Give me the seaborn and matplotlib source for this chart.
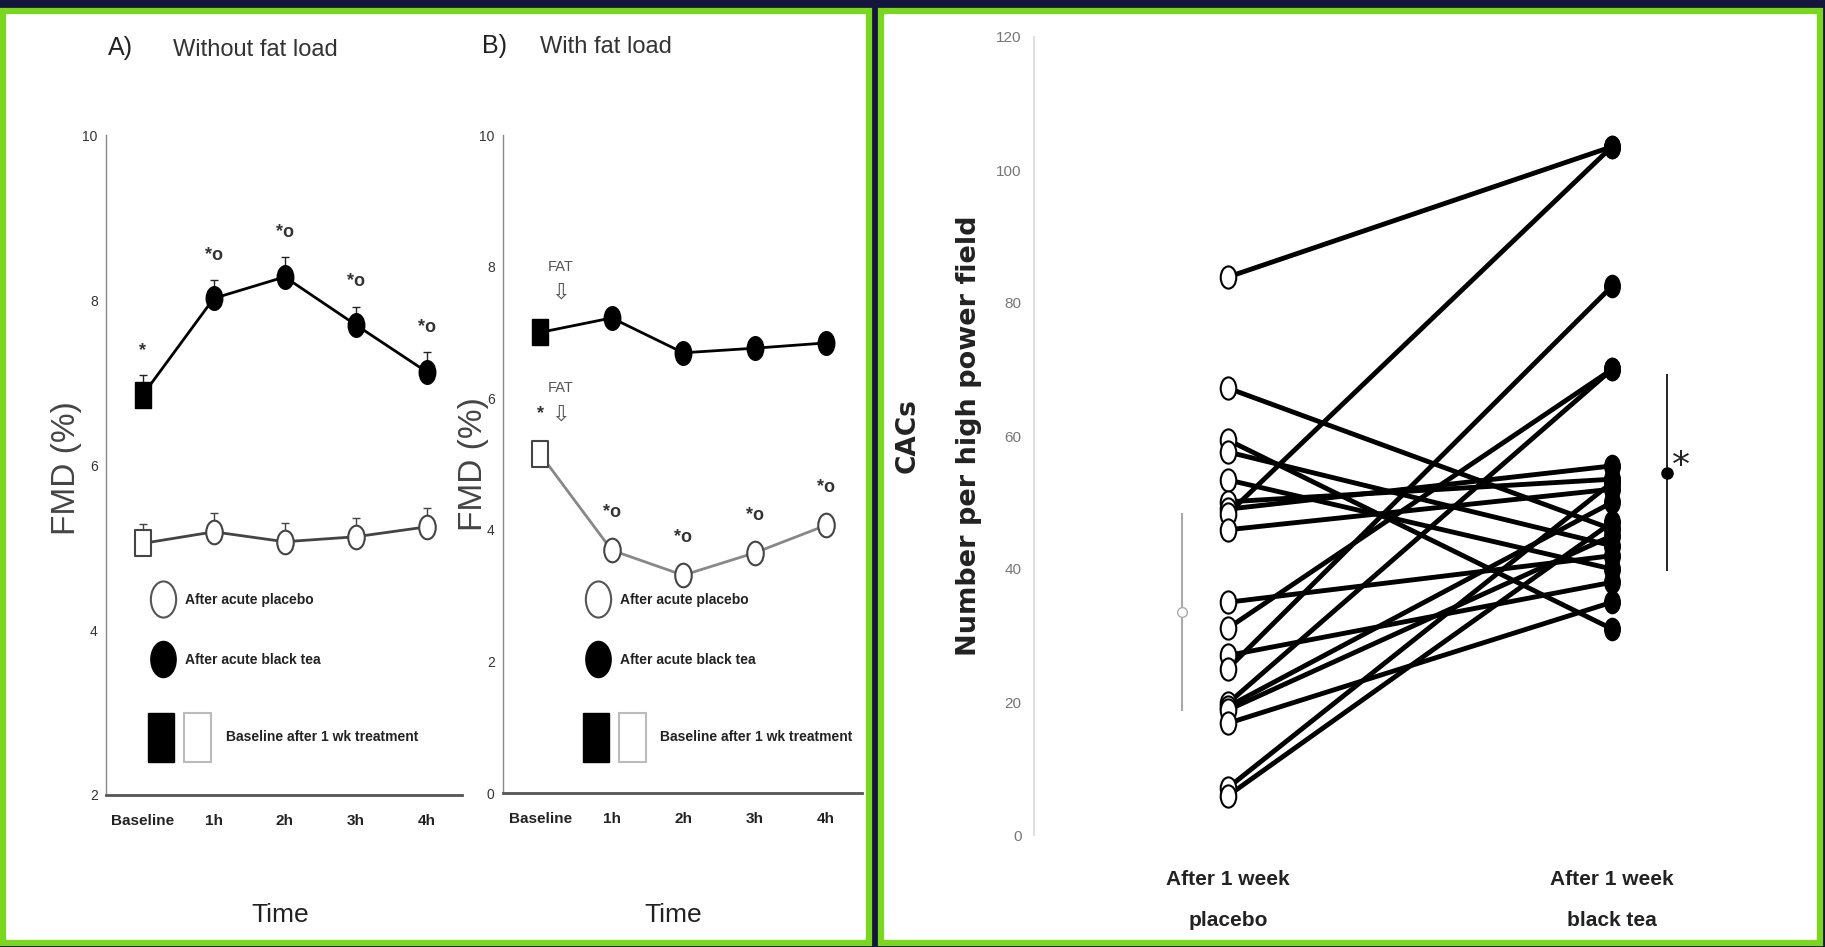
import numpy as np
import pandas as pd
import seaborn as sns
import matplotlib.pyplot as plt
from matplotlib import font_manager
from matplotlib.path import Path
from matplotlib.lines import Line2D
from matplotlib.patches import Rectangle
from matplotlib.legend_handler import HandlerTuple

sns.set_style("white")

fontNames = {f.name for f in font_manager.fontManager.ttflist}
NARROW = "Liberation Sans Narrow" if "Liberation Sans Narrow" in fontNames else "Liberation Sans"
plt.rcParams['font.family'] = [NARROW, 'DejaVu Sans']

# ---- datos ----
times = ["Baseline", "1h", "2h", "3h", "4h"]

a_tea = [6.85, 8.02, 8.28, 7.70, 7.13]
a_tea_err = [0.24, 0.22, 0.24, 0.22, 0.24]
a_placebo = [5.05, 5.19, 5.07, 5.13, 5.25]
a_placebo_err = [0.24, 0.23, 0.23, 0.23, 0.23]
a_tea_marks = ["*", "*o", "*o", "*o", "*o"]

b_tea = [7.00, 7.22, 6.69, 6.76, 6.84]
b_tea_err = [0.15, 0.14, 0.14, 0.14, 0.14]
b_placebo = [5.15, 3.69, 3.31, 3.65, 4.07]
b_placebo_err = [0.20, 0.15, 0.15, 0.15, 0.15]
b_placebo_marks = ["*", "*o", "*o", "*o", "*o"]

cacs_groups = ["After 1 week\nplacebo", "After 1 week\nblack tea"]
cacs_placebo = [83.9, 67.2, 59.4, 57.6, 53.4, 50.1, 49.0, 48.3, 45.9, 35.0,
                31.1, 27.0, 25.0, 19.8, 19.3, 18.8, 16.8, 7.1, 5.9]
cacs_tea = [103.5, 46.0, 31.0, 43.5, 40.0, 53.5, 55.5, 103.5, 52.0, 42.0,
            70.0, 38.0, 82.5, 70.0, 50.0, 45.0, 35.0, 53.0, 47.0]
cacs_mean = [33.5, 54.5]
cacs_sd = [14.9, 14.8]

# ---- figura ----
W, H = 1825, 947
fig = plt.figure(figsize=(W / 100, H / 100), dpi=100, facecolor="#15163c")

def fx(px):
    return px / W

def fy(py):
    return 1 - py / H

# marcadores alargados (imagen original estirada)
circ = Path.unit_circle()
ell = Path(circ.vertices * [0.7, 1.0], circ.codes)
tallSq = Path([(-0.62, -1), (0.62, -1), (0.62, 1), (-0.62, 1), (-0.62, -1)],
              [Path.MOVETO, Path.LINETO, Path.LINETO, Path.LINETO, Path.CLOSEPOLY])

# recuadros verdes
green = "#7ad61f"
fig.add_artist(Rectangle((fx(3), fy(943)), fx(869 - 3), (943 - 11) / H, transform=fig.transFigure,
                         facecolor="white", edgecolor=green, lw=4.5, zorder=-5))
fig.add_artist(Rectangle((fx(881), fy(943)), fx(1820 - 881), (943 - 11) / H, transform=fig.transFigure,
                         facecolor="white", edgecolor=green, lw=4.5, zorder=-5))

axA = fig.add_axes([fx(106), fy(795), fx(462 - 106), (795 - 135) / H])
axB = fig.add_axes([fx(503), fy(793), fx(862 - 503), (793 - 135) / H])
axR = fig.add_axes([fx(1034), fy(835), fx(1800 - 1034), (835 - 37) / H])


def fmd_panel(ax, tea, teaErr, pla, plaErr, plaLine, ylim, marks_on, marks, offset):
    x = np.arange(len(times))
    sns.lineplot(x=x, y=tea, ax=ax, color="black", lw=2, zorder=2)
    sns.lineplot(x=x, y=pla, ax=ax, color=plaLine, lw=2, zorder=2)
    ax.errorbar(x, tea, yerr=[np.zeros(len(x)), teaErr], fmt="none", ecolor="#222",
                elinewidth=1, capsize=3, zorder=1)
    ax.errorbar(x, pla, yerr=[np.zeros(len(x)), plaErr], fmt="none", ecolor="#444",
                elinewidth=1, capsize=3, zorder=1)
    sns.scatterplot(x=x[1:], y=tea[1:], ax=ax, marker=ell, s=17 ** 2, color="black",
                    edgecolor="black", linewidth=1, zorder=3)
    sns.scatterplot(x=x[:1], y=tea[:1], ax=ax, marker=tallSq, s=19 ** 2, color="black",
                    edgecolor="black", linewidth=1, zorder=3)
    sns.scatterplot(x=x[1:], y=pla[1:], ax=ax, marker=ell, s=17 ** 2, color="white",
                    edgecolor="#444", linewidth=1.5, zorder=3)
    sns.scatterplot(x=x[:1], y=pla[:1], ax=ax, marker=tallSq, s=19 ** 2, color="white",
                    edgecolor="#444", linewidth=1.5, zorder=3)
    vals, errs = (tea, teaErr) if marks_on == "tea" else (pla, plaErr)
    for xi, v, e, m in zip(x, vals, errs, marks):
        ax.text(xi, v + e + offset, m, ha="center", va="center", fontsize=13,
                fontweight="bold", color="#333")
    ax.set_xlim(-0.52, 4.5)
    ax.set_ylim(*ylim)
    ax.set_yticks(np.arange(ylim[0], ylim[1] + 1, 2))
    ax.set_xticks(x, times)
    ax.set_facecolor("none")
    sns.despine(ax=ax)
    ax.spines["left"].set_color("#888")
    ax.spines["left"].set_linewidth(1)
    ax.spines["bottom"].set_color("#555")
    ax.spines["bottom"].set_linewidth(2)
    ax.tick_params(axis="y", length=3, color="#888", labelsize=10, labelcolor="#333", pad=3)
    ax.tick_params(axis="x", length=0, labelsize=11, labelcolor="#222", pad=14)
    for t in ax.get_xticklabels():
        t.set_fontweight("bold")


def fmd_legend(ax, x0):
    prop1 = dict(family=NARROW, weight="bold", size=10)
    handles = [Line2D([], [], ls="none", marker=ell, ms=26, mfc="white", mec="#555", mew=1.5),
               Line2D([], [], ls="none", marker=ell, ms=26, mfc="black", mec="black")]
    leg1 = ax.legend(handles, ["After acute placebo", "After acute black tea"], loc="upper left",
                     bbox_to_anchor=(fx(x0), fy(593)), bbox_transform=fig.transFigure,
                     frameon=False, handlelength=1.45, handletextpad=0.85, labelspacing=3.3,
                     borderpad=0, borderaxespad=0, prop=prop1)
    for t in leg1.get_texts():
        t.set_color("#222")
    ax.add_artist(leg1)
    pair = (Rectangle((0, 0), 1, 1, fc="black", ec="black"),
            Rectangle((0, 0), 1, 1, fc="white", ec="#bbbbbb", lw=1.5))
    leg2 = ax.legend([pair], ["Baseline after 1 wk treatment"],
                     handler_map={tuple: HandlerTuple(ndivide=None, pad=0.72)},
                     loc="upper left", bbox_to_anchor=(fx(x0 - 5), fy(713)),
                     bbox_transform=fig.transFigure, frameon=False, handlelength=4.5,
                     handleheight=5.0, handletextpad=1.08, borderpad=0, borderaxespad=0,
                     prop=dict(family=NARROW, weight="bold", size=10))
    for t in leg2.get_texts():
        t.set_color("#222")


fmd_panel(axA, a_tea, a_tea_err, a_placebo, a_placebo_err, "#444", (2, 10), "tea", a_tea_marks, 0.3)
fmd_legend(axA, 153)
fmd_panel(axB, b_tea, b_tea_err, b_placebo, b_placebo_err, "#888", (0, 10), "placebo", b_placebo_marks, 0.42)
fmd_legend(axB, 588)

# flechas FAT
for yv in (b_tea[0], b_placebo[0]):
    axB.text(0.28, yv + 1.0, "FAT", ha="center", va="center", fontsize=10.5, color="#555")
    axB.text(0.28, yv + 0.6, "\u21e9", ha="center", va="center", fontsize=16, color="#555",
             family="DejaVu Sans")

# titulos y etiquetas
fig.text(fx(108), fy(48), "A)", ha="left", va="center", size=18, color="#222")
fig.text(fx(173), fy(50), "Without fat load", ha="left", va="center", size=17, color="#333")
fig.text(fx(482), fy(46), "B)", ha="left", va="center", size=18, color="#222")
fig.text(fx(540), fy(47), "With fat load", ha="left", va="center", size=17, color="#333")
fig.text(fx(280), fy(915), "Time", ha="center", va="center", size=19, color="#222")
fig.text(fx(673), fy(915), "Time", ha="center", va="center", size=19, color="#222")
fig.text(fx(67), fy(468), "FMD (%)", rotation=90, ha="center", va="center", size=24,
         color="#444", family="Liberation Sans")
fig.text(fx(473), fy(464), "FMD (%)", rotation=90, ha="center", va="center", size=24,
         color="#444", family="Liberation Sans")

# ---- panel derecho: CACs ----
n = len(cacs_placebo)
dfCacs = pd.DataFrame({
    "sujeto": list(range(n)) * 2,
    "pos": [0] * n + [1] * n,
    "cacs": cacs_placebo + cacs_tea,
})
sns.lineplot(data=dfCacs, x="pos", y="cacs", units="sujeto", estimator=None, color="black",
             lw=3.5, ax=axR, zorder=2)
sns.scatterplot(x=[0] * n, y=cacs_placebo, ax=axR, marker=ell, s=16 ** 2, color="white",
                edgecolor="black", linewidth=1.5, zorder=3)
sns.scatterplot(x=[1] * n, y=cacs_tea, ax=axR, marker=ell, s=16 ** 2, color="black",
                edgecolor="black", linewidth=1, zorder=3)
axR.errorbar([-0.12], [cacs_mean[0]], yerr=[cacs_sd[0]], fmt="o", color="#aaaaaa", mfc="white",
             mec="#aaaaaa", ms=7, elinewidth=1.5, capsize=0)
axR.errorbar([1.143], [cacs_mean[1]], yerr=[cacs_sd[1]], fmt="o", color="black", ms=8,
             elinewidth=1.2, capsize=0)
axR.text(1.18, cacs_mean[1] + 1, "*", ha="center", va="center", fontsize=26, color="#222",
         family="DejaVu Sans")

axR.set_xlim(-0.505, 1.49)
axR.set_ylim(0, 120)
axR.set_yticks(range(0, 121, 20))
axR.set_xticks([0, 1], cacs_groups)
axR.set_xlabel("")
axR.set_ylabel("")
axR.set_facecolor("none")
sns.despine(ax=axR, bottom=True)
axR.spines["left"].set_color("#d8d8d8")
axR.spines["left"].set_linewidth(1.2)
axR.tick_params(axis="y", length=3, color="#ccc", labelsize=11, labelcolor="#777", pad=6)
axR.tick_params(axis="x", length=0, labelsize=15, labelcolor="#222", pad=25)
for t in axR.get_xticklabels():
    t.set_fontweight("bold")
    t.set_linespacing(2.5)

fig.text(fx(908), fy(436), "CACs", rotation=90, ha="center", va="center", size=19,
         weight="bold", color="#222", family="DejaVu Sans")
fig.text(fx(969), fy(436), "Number per high power field", rotation=90, ha="center", va="center",
         size=19.5, weight="bold", color="#222", family="DejaVu Sans")

axA.set_xlabel("")
axB.set_xlabel("")
fig.savefig("out.png", dpi=100, facecolor=fig.get_facecolor())
